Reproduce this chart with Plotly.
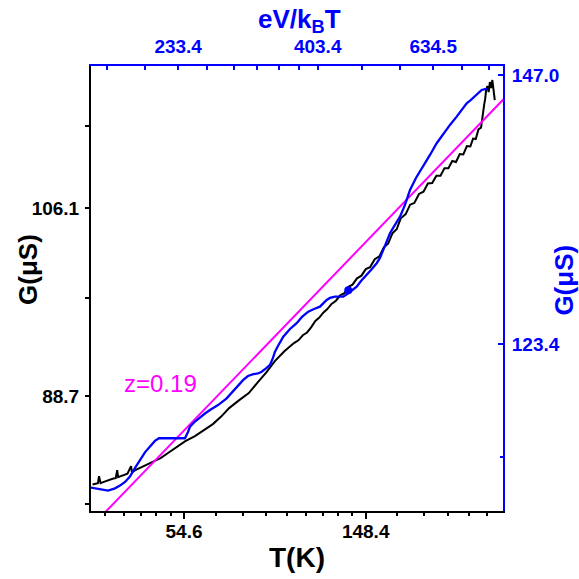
import plotly.graph_objects as go

# ---------------- data ----------------
# black: G (left axis) vs T (bottom axis)
T_black = [33, 34, 34.2, 34.5, 35, 36, 37, 37.5, 37.8, 38, 39, 40, 40.8, 41, 42, 44, 46, 48, 50, 52,
           55, 58, 61, 64, 67, 70, 74, 78, 82, 86, 90, 95,
           100, 102.5, 105, 107.5, 110, 112.5, 115, 117.5, 120, 123, 126, 129, 132, 135, 138, 141.5,
           145, 148.5, 152, 156, 160, 164, 168, 172, 176, 180, 185, 189.5, 194, 199, 204, 209, 214,
           219, 224, 229, 234, 239, 244, 249, 254, 259, 264, 268, 272, 276, 280, 282.5, 285, 286.5,
           288, 290, 292, 294, 296, 298, 300, 302]
G_black = [81.52, 81.63, 82.18, 81.63, 81.71, 81.87, 81.99, 82.02, 82.65, 82.10, 82.22, 82.37, 82.97,
           82.49, 82.69, 83.01, 83.32, 83.61, 84.01, 84.41,
           84.97, 85.38, 85.91, 86.36, 86.98, 87.69, 88.36, 88.95, 89.89, 90.75, 91.71, 92.59,
           93.30, 93.55, 94.00, 94.25, 94.74, 95.30, 95.60, 96.05, 96.35, 96.85, 97.15, 97.65, 97.85,
           98.45, 98.65, 99.25, 99.50, 100.12, 100.30, 101.08, 101.35, 102.22, 102.60, 103.62, 104.00,
           105.10, 105.52, 106.47, 106.65, 107.57, 107.80, 108.65, 108.70, 109.45, 109.45, 110.25,
           110.25, 111.00, 110.90, 111.75, 111.70, 112.60, 112.55, 113.40, 113.35, 114.40, 114.60,
           116.30, 117.20, 117.80, 118.78, 119.23, 118.55, 119.69, 119.00, 119.92, 118.55, 117.65]

# blue: G (right axis) vs eV/kBT (top axis)
E_blue = [165.8, 171.8, 177.3, 182.2, 185.8, 189.5, 193.2, 197.1, 200.9, 204.9,
          209.0, 213.1, 216.5, 226.0, 235.1, 239.7, 242.6, 244.5, 249.3, 254.3,
          259.3, 264.4, 272.9, 282.3, 291.7, 301.3, 306.9, 313.4, 319.2, 323.9,
          329.4, 334.6, 338.5, 341.2, 345.2, 352.5, 361.9, 371.5, 379.3, 388.8,
          397.6, 407.0, 417.9, 423.3, 431.7, 446.0, 454.8, 461.5, 470.1, 478.1,
          488.9, 497.2, 508.4, 515.0, 521.8, 529.4, 535.6, 546.2, 557.1, 568.1,
          579.4, 593.1, 610.4, 626.6, 643.3, 659.4, 677.7, 695.8, 710.4, 723.6,
          735.9, 752.5, 767.4, 777.5, 783.6]
G_blue = [112.42, 112.29, 112.20, 112.37, 112.57, 112.84, 113.23, 113.87, 114.47, 115.03,
          115.46, 115.89, 116.09, 116.07, 116.06, 116.09, 116.56, 116.97, 117.36, 117.69,
          117.97, 118.24, 118.62, 119.14, 119.87, 120.57, 120.88, 121.02, 121.08, 121.22,
          121.48, 121.75, 122.31, 122.81, 123.26, 124.01, 124.63, 125.10, 125.61, 126.04,
          126.26, 126.45, 127.00, 127.17, 127.28, 127.28, 127.56, 127.83, 128.11, 128.58,
          129.08, 129.50, 130.07, 130.52, 131.20, 131.97, 132.63, 133.35, 134.07, 135.09,
          136.41, 137.48, 138.50, 139.55, 140.62, 141.47, 142.30, 143.07, 143.79, 144.32,
          144.63, 145.10, 145.57, 145.64, 145.67]
E_dot = [454.8]
G_dot = [127.80]

# magenta power-law fit line (bottom / left axes)
T_fit = [35.4, 328.4]
G_fit = [79.4, 118.5]
fit_label = "z=0.19"

# tick values / labels
T_ticks = [54.6, 148.4]
T_minor = [35.43, 39.26, 43.10, 46.93, 50.76, 65.02, 75.44, 85.87, 96.29, 106.71, 117.14,
           127.56, 137.98, 176.7, 205.1, 233.4, 261.8, 290.1]
GL_ticks = [88.7, 106.1]
GL_minor = [80.0, 97.4, 114.8]
E_ticks = [233.4, 403.4, 634.5]
E_minor = [176.8, 205.1, 261.8, 290.1, 318.4, 346.8, 375.1, 480.4, 557.5, 711.5, 788.5]
E_major = [403.4]
GR_ticks = [123.4, 147.0]
GR_minor = [114.7]

BLUE = "#0000FF"
MAG = "#FF00FF"
FONT = "Liberation Sans, Arial, sans-serif"

fig = go.Figure()
fig.add_trace(go.Scatter(x=T_black, y=G_black, mode="lines",
                         line=dict(color="black", width=2), xaxis="x", yaxis="y"))
fig.add_trace(go.Scatter(x=E_blue, y=G_blue, mode="lines",
                         line=dict(color=BLUE, width=2.3), xaxis="x2", yaxis="y2"))
fig.add_trace(go.Scatter(x=E_dot, y=G_dot, mode="markers",
                         marker=dict(color=BLUE, size=8), xaxis="x2", yaxis="y2"))
fig.add_trace(go.Scatter(x=T_fit, y=G_fit, mode="lines",
                         line=dict(color=MAG, width=2), xaxis="x", yaxis="y"))

tf = dict(family=FONT, size=19, color="black", weight="bold")
tfb = dict(family=FONT, size=19, color=BLUE, weight="bold")

fig.update_layout(
    width=579, height=579,
    margin=dict(l=91, r=76, t=66, b=68),
    paper_bgcolor="white", plot_bgcolor="white",
    showlegend=False,
    font=dict(family=FONT),
    xaxis=dict(type="log", range=[1.51491, 2.49967], showgrid=False, zeroline=False,
               showline=True, linecolor="black", linewidth=2,
               ticks="outside", ticklen=6, tickwidth=1.5, tickcolor="black",
               tickvals=T_ticks, ticktext=[f"{v:.1f}" for v in T_ticks], tickfont=tf,
               minor=dict(tickvals=T_minor, ticks="outside", ticklen=3, tickwidth=1.5,
                          tickcolor="black", showgrid=False),
               ticklabelstandoff=-4),
    yaxis=dict(type="log", range=[1.90031, 2.08470], showgrid=False, zeroline=False,
               showline=True, linecolor="black", linewidth=2,
               ticks="outside", ticklen=4, tickwidth=1.5, tickcolor="black",
               tickvals=GL_ticks, ticktext=[f"{v:.1f}" for v in GL_ticks], tickfont=tf,
               minor=dict(tickvals=GL_minor, ticks="outside", ticklen=4, tickwidth=1.5,
                          tickcolor="black", showgrid=False),
               ticklabelstandoff=2),
    xaxis2=dict(type="log", range=[2.21967, 2.92136], overlaying="x", side="top", anchor="y",
                showgrid=False, zeroline=False, showline=True, linecolor=BLUE, linewidth=2,
                ticks="inside", ticklen=4, tickwidth=1.5, tickcolor=BLUE,
                tickvals=E_ticks, ticktext=[f"{v:.1f}" for v in E_ticks], tickfont=tfb,
                minor=dict(tickvals=E_minor, ticks="inside", ticklen=4, tickwidth=1.5,
                           tickcolor=BLUE, showgrid=False),
                ticklabelstandoff=3),
    xaxis3=dict(type="log", range=[2.21967, 2.92136], overlaying="x", side="top", anchor="y",
                showgrid=False, zeroline=False, showline=False,
                ticks="inside", ticklen=7, tickwidth=1.5, tickcolor=BLUE,
                tickvals=E_major, showticklabels=False),
    yaxis2=dict(type="log", range=[2.04426, 2.16983], overlaying="y", side="right", anchor="x",
                showgrid=False, zeroline=False, showline=True, linecolor=BLUE, linewidth=2,
                ticks="inside", ticklen=5, tickwidth=1.5, tickcolor=BLUE,
                tickvals=GR_ticks, ticktext=[f"{v:.1f}" for v in GR_ticks], tickfont=tfb,
                minor=dict(tickvals=GR_minor, ticks="inside", ticklen=3, tickwidth=1.5,
                           tickcolor=BLUE, showgrid=False),
                ticklabelstandoff=3),
)

fig.add_annotation(text="T(K)", xref="paper", yref="paper", x=0.5, y=-0.1034,
                   showarrow=False, xanchor="center", yanchor="middle",
                   font=dict(family=FONT, size=28, weight="bold", color="black"))
fig.add_annotation(text="G(μS)", xref="paper", yref="paper", x=-0.1529, y=0.5416,
                   showarrow=False, xanchor="center", yanchor="middle", textangle=-90,
                   font=dict(family=FONT, size=26, weight="bold", color="black"))
fig.add_annotation(text="G(μS)", xref="paper", yref="paper", x=1.147, y=0.519,
                   showarrow=False, xanchor="center", yanchor="middle", textangle=-90,
                   font=dict(family=FONT, size=26, weight="bold", color=BLUE))
fig.add_annotation(text="eV/k<sub>B</sub>T", xref="paper", yref="paper", x=0.505, y=1.102,
                   showarrow=False, xanchor="center", yanchor="middle",
                   font=dict(family=FONT, size=26, weight="bold", color=BLUE))
fig.add_annotation(text=fit_label, xref="paper", yref="paper", x=0.1675, y=0.2854,
                   showarrow=False, xanchor="center", yanchor="middle",
                   font=dict(family=FONT, size=24, color=MAG))

fig.write_html("out.html", config={"displayModeBar": False},
               post_script="document.body.style.margin='0px';document.body.style.padding='0px';")
